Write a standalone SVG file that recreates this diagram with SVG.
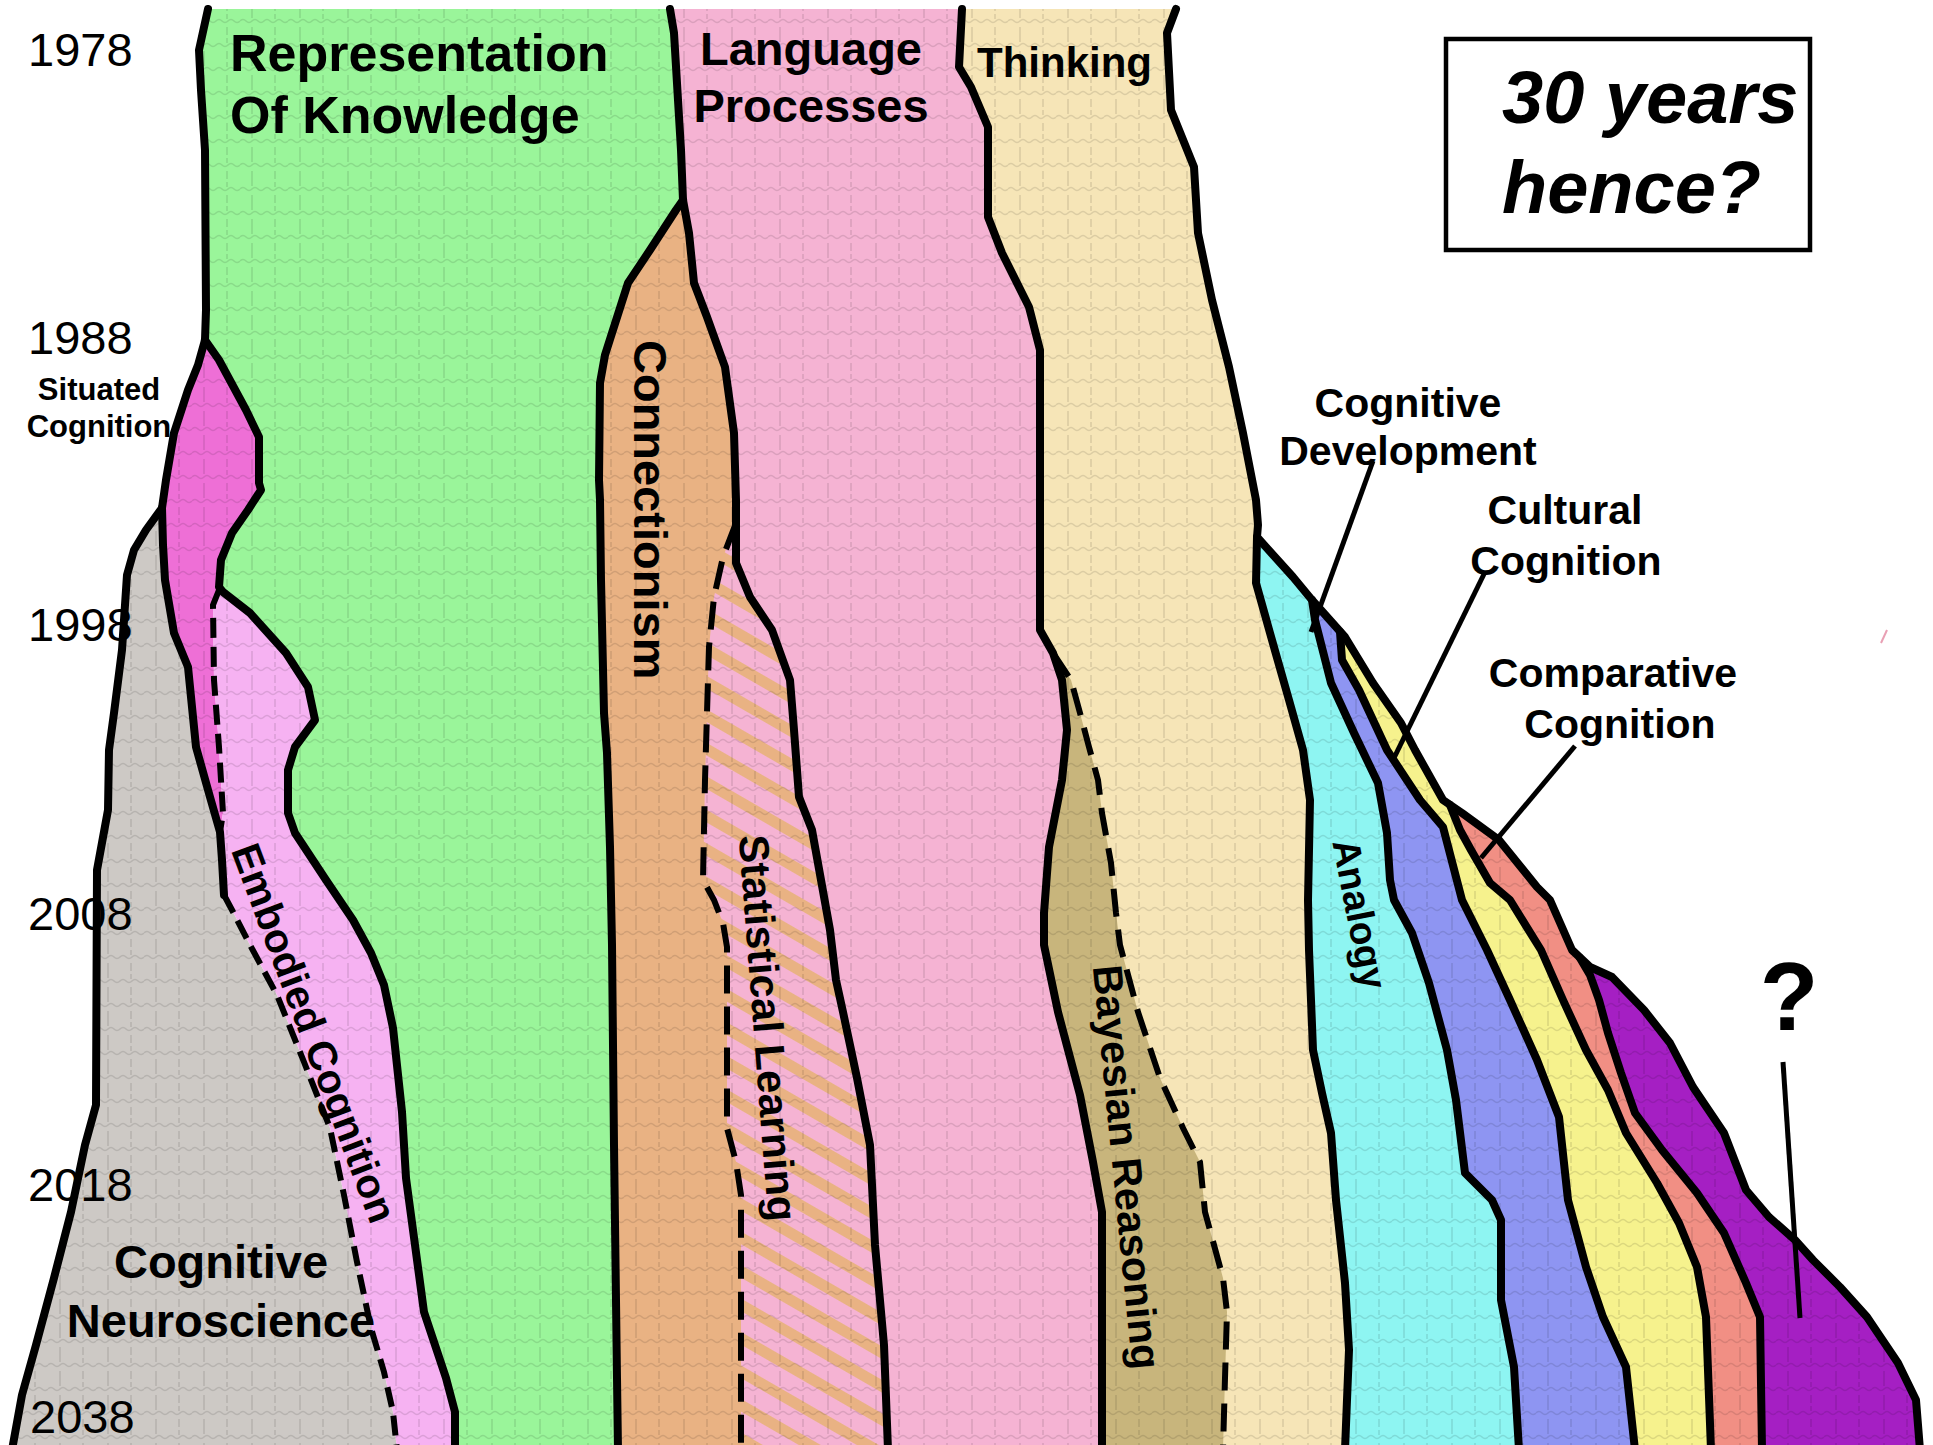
<svg xmlns="http://www.w3.org/2000/svg" width="1933" height="1445" viewBox="0 0 1933 1445">
<style>
.year{font-family:"Liberation Sans",Arial,sans-serif;font-size:47px;fill:#000}
.lb{font-family:"Liberation Sans",Arial,sans-serif;font-weight:bold;fill:#000}
.edge{fill:none;stroke:#000;stroke-width:8;stroke-linejoin:round;stroke-linecap:round}
.dash{fill:none;stroke:#000;stroke-width:6;stroke-dasharray:28 13}
.dash2{fill:none;stroke:#000;stroke-width:6;stroke-dasharray:20 9}
.lead{fill:none;stroke:#000;stroke-width:5}
</style>
<defs>
<pattern id="tex" width="48" height="24" patternUnits="userSpaceOnUse">
<path d="M0 21 q3 -3 6 0 t6 0 t6 0 t6 0 t6 0 t6 0 t6 0 t6 0 M12 3 v15 M35 3 v8 M35 14 v5" fill="none" stroke="#000" stroke-opacity="0.11" stroke-width="1.6"/>
</pattern>
<pattern id="stripes" width="40" height="29" patternUnits="userSpaceOnUse" patternTransform="rotate(30)">
<rect width="40" height="29" fill="#f5b3d3"/>
<rect y="0" width="40" height="11" fill="#e9b283"/>
</pattern>
<clipPath id="allclip">
<path d="M208 9 L1176 9 L1167 33 L1171 110 L1194 167 L1198 233 L1212 300 L1229 367 L1243 433 L1256 500 L1258 525 L1257 537 L1293 577 L1312 600 L1345 637 L1373 683 L1401 723 L1415 750 L1443 800 L1462 813 L1499 840 L1537 887 L1550 900 L1572 950 L1590 967 L1612 977 L1644 1010 L1670 1043 L1693 1087 L1724 1133 L1746 1190 L1769 1217 L1795 1240 L1813 1260 L1840 1287 L1867 1317 L1898 1363 L1916 1400 L1920 1445 L1922 1450 L12 1450 L22 1395 L36 1345 L54 1278 L71 1212 L85 1145 L96 1105 L97 870 L108 810 L109 750 L114 713 L122 650 L127 575 L134 550 L146 530 L162 508 L166 480 L174 433 L188 390 L198 365 L205 340 L206 310 L205 150 L201 90 L199 50 Z"/>
</clipPath>
</defs>
<rect width="1933" height="1445" fill="#ffffff"/>

<g id="regions">
<g id="thinking"><path fill="#f6e5b7" d="M962 9 L959 67 L971 87 L988 127 L988 217 L1002 253 L1029 307 L1040 350 L1040 500 L1040 630 L1053 653 L1062 680 L1067 730 L1062 780 L1049 847 L1044 913 L1044 945 L1058 1012 L1080 1095 L1093 1162 L1102 1212 L1102 1450 L1922 1450 L1920 1445 L1916 1400 L1898 1363 L1867 1317 L1840 1287 L1813 1260 L1795 1240 L1769 1217 L1746 1190 L1724 1133 L1693 1087 L1670 1043 L1644 1010 L1612 977 L1590 967 L1572 950 L1550 900 L1537 887 L1499 840 L1462 813 L1443 800 L1415 750 L1401 723 L1373 683 L1345 637 L1312 600 L1293 577 L1257 537 L1258 525 L1256 500 L1243 433 L1229 367 L1212 300 L1198 233 L1194 167 L1171 110 L1167 33 L1176 9 Z"/></g>
<g id="analogy"><path fill="#8ef5f2" d="M1257 537 L1256 583 L1270 633 L1289 700 L1303 750 L1310 800 L1308 900 L1309 950 L1313 1050 L1322 1093 L1331 1133 L1336 1200 L1345 1283 L1349 1350 L1345 1450 L1922 1450 L1920 1445 L1916 1400 L1898 1363 L1867 1317 L1840 1287 L1813 1260 L1795 1240 L1769 1217 L1746 1190 L1724 1133 L1693 1087 L1670 1043 L1644 1010 L1612 977 L1590 967 L1572 950 L1550 900 L1537 887 L1499 840 L1462 813 L1443 800 L1415 750 L1401 723 L1373 683 L1345 637 L1312 600 L1293 577 Z"/></g>
<g id="cognitive-development"><path fill="#8e95f2" d="M1312 600 L1315 620 L1331 683 L1354 733 L1378 783 L1387 833 L1390 880 L1394 900 L1412 933 L1429 983 L1447 1050 L1456 1100 L1465 1173 L1492 1200 L1501 1220 L1501 1300 L1514 1367 L1519 1450 L1922 1450 L1920 1445 L1916 1400 L1898 1363 L1867 1317 L1840 1287 L1813 1260 L1795 1240 L1769 1217 L1746 1190 L1724 1133 L1693 1087 L1670 1043 L1644 1010 L1612 977 L1590 967 L1572 950 L1550 900 L1537 887 L1499 840 L1462 813 L1443 800 L1415 750 L1401 723 L1373 683 L1345 637 Z"/></g>
<g id="cultural-cognition"><path fill="#f6f28d" d="M1340 632 L1342 660 L1359 690 L1387 750 L1420 800 L1443 827 L1462 900 L1487 950 L1510 1000 L1537 1060 L1559 1117 L1568 1200 L1586 1267 L1603 1317 L1626 1367 L1635 1450 L1922 1450 L1920 1445 L1916 1400 L1898 1363 L1867 1317 L1840 1287 L1813 1260 L1795 1240 L1769 1217 L1746 1190 L1724 1133 L1693 1087 L1670 1043 L1644 1010 L1612 977 L1590 967 L1572 950 L1550 900 L1537 887 L1499 840 L1462 813 L1443 800 L1415 750 L1401 723 L1373 683 L1345 637 Z"/></g>
<g id="comparative-cognition"><path fill="#f18f84" d="M1450 805 L1460 830 L1471 850 L1490 883 L1510 900 L1541 950 L1563 1000 L1586 1050 L1608 1090 L1626 1133 L1657 1183 L1679 1223 L1697 1267 L1706 1317 L1711 1450 L1922 1450 L1920 1445 L1916 1400 L1898 1363 L1867 1317 L1840 1287 L1813 1260 L1795 1240 L1769 1217 L1746 1190 L1724 1133 L1693 1087 L1670 1043 L1644 1010 L1612 977 L1590 967 L1572 950 L1550 900 L1537 887 L1499 840 L1462 813 Z"/></g>
<g id="unknown-future"><path fill="#a51fc3" d="M1580 958 L1590 975 L1599 1000 L1608 1033 L1621 1073 L1635 1113 L1662 1150 L1697 1193 L1724 1233 L1746 1283 L1760 1317 L1762 1450 L1922 1450 L1920 1445 L1916 1400 L1898 1363 L1867 1317 L1840 1287 L1813 1260 L1795 1240 L1769 1217 L1746 1190 L1724 1133 L1693 1087 L1670 1043 L1644 1010 L1612 977 L1590 967 Z"/></g>
<g id="bayesian-reasoning"><path fill="#c8b57c" d="M1053 653 L1062 680 L1067 730 L1062 780 L1049 847 L1044 913 L1044 945 L1058 1012 L1080 1095 L1093 1162 L1102 1212 L1102 1450 L1223 1450 L1225 1378 L1227 1312 L1223 1278 L1205 1212 L1200 1162 L1183 1128 L1160 1078 L1138 1012 L1120 945 L1116 913 L1111 863 L1102 813 L1098 780 L1089 747 L1080 713 L1071 680 Z"/></g>
<g id="language-processes"><path fill="#f5b3d3" d="M670 9 L962 9 L959 67 L971 87 L988 127 L988 217 L1002 253 L1029 307 L1040 350 L1040 500 L1040 630 L1053 653 L1062 680 L1067 730 L1062 780 L1049 847 L1044 913 L1044 945 L1058 1012 L1080 1095 L1093 1162 L1102 1212 L1102 1450 L888 1450 L884 1345 L875 1245 L870 1145 L857 1078 L843 1012 L836 980 L830 930 L821 880 L812 830 L799 797 L794 730 L790 680 L772 630 L750 597 L736 563 L736 500 L734 433 L725 367 L707 317 L694 283 L689 233 L683 200 L681 150 L678 100 L674 33 Z"/></g>
<g id="representation-of-knowledge"><path fill="#9af59a" d="M208 9 L670 9 L674 33 L678 100 L681 150 L683 200 L676 210 L650 250 L628 283 L612 333 L605 355 L600 383 L599 480 L600 500 L601 580 L604 713 L607 753 L610 847 L612 945 L614 1145 L617 1378 L618 1450 L455 1450 L455 1412 L446 1378 L424 1312 L415 1245 L406 1178 L402 1112 L393 1028 L384 985 L371 953 L353 920 L326 880 L295 833 L288 813 L288 770 L295 747 L315 720 L308 687 L286 653 L250 613 L223 592 L219 587 L221 560 L232 533 L248 510 L261 490 L259 483 L259 437 L246 410 L219 360 L205 340 L206 310 L205 150 L201 90 L199 50 Z"/></g>
<g id="connectionism"><path fill="#e9b283" d="M683 200 L676 210 L650 250 L628 283 L612 333 L605 355 L600 383 L599 480 L600 500 L601 580 L604 713 L607 753 L610 847 L612 945 L614 1145 L617 1378 L618 1450 L888 1450 L884 1345 L875 1245 L870 1145 L857 1078 L843 1012 L836 980 L830 930 L821 880 L812 830 L799 797 L794 730 L790 680 L772 630 L750 597 L736 563 L736 500 L734 433 L725 367 L707 317 L694 283 L689 233 Z"/></g>
<g id="statistical-learning"><path fill="url(#stripes)" d="M736 523 L723 557 L714 597 L709 647 L707 713 L705 780 L703 880 L714 900 L723 923 L727 947 L727 1128 L736 1162 L741 1195 L741 1450 L888 1450 L884 1345 L875 1245 L870 1145 L857 1078 L843 1012 L836 980 L830 930 L821 880 L812 830 L799 797 L794 730 L790 680 L772 630 L750 597 L736 563 Z"/></g>
<g id="cognitive-neuroscience"><path fill="#cdc9c5" d="M162 508 L146 530 L134 550 L127 575 L122 650 L114 713 L109 750 L108 810 L97 870 L96 1105 L85 1145 L71 1212 L54 1278 L36 1345 L22 1395 L12 1450 L397 1450 L393 1412 L384 1372 L371 1328 L357 1262 L344 1195 L330 1128 L304 1062 L277 995 L250 945 L232 910 L224 895 L222 860 L220 832 L210 797 L196 747 L188 667 L174 633 L165 580 L163 545 Z"/></g>
<g id="situated-cognition"><path fill="#ee6fd6" d="M205 340 L219 360 L246 410 L259 437 L259 483 L261 490 L248 510 L232 533 L221 560 L219 587 L219 590 L213 605 L214 680 L219 747 L223 813 L220 832 L210 797 L196 747 L188 667 L174 633 L165 580 L163 545 L162 508 L166 480 L174 433 L188 390 L198 365 Z"/></g>
<g id="embodied-cognition"><path fill="#f6b2f2" d="M219 590 L213 605 L214 680 L219 747 L223 813 L220 832 L222 860 L224 895 L232 910 L250 945 L277 995 L304 1062 L330 1128 L344 1195 L357 1262 L371 1328 L384 1372 L393 1412 L397 1450 L455 1450 L455 1412 L446 1378 L424 1312 L415 1245 L406 1178 L402 1112 L393 1028 L384 985 L371 953 L353 920 L326 880 L295 833 L288 813 L288 770 L295 747 L315 720 L308 687 L286 653 L250 613 L223 592 Z"/></g>
</g>

<g id="texture" clip-path="url(#allclip)">
<rect x="0" y="0" width="1933" height="1445" fill="url(#tex)"/>
</g>

<g id="years">
<text class="year" x="28" y="66">1978</text>
<text class="year" x="28" y="354">1988</text>
<text class="year" x="28" y="641">1998</text>
<text class="year" x="28" y="930">2008</text>
<text class="year" x="28" y="1201">2018</text>
<text class="year" x="30" y="1433">2038</text>
</g>

<g id="connectors-boundaries">
<path class="edge" d="M208 9 L199 50 L201 90 L205 150 L206 310 L205 340 L198 365 L188 390 L174 433 L166 480 L162 508 L146 530 L134 550 L127 575 L122 650 L114 713 L109 750 L108 810 L97 870 L96 1105 L85 1145 L71 1212 L54 1278 L36 1345 L22 1395 L12 1450"/>
<path class="edge" d="M162 508 L163 545 L165 580 L174 633 L188 667 L196 747 L210 797 L220 832 L222 860 L224 895"/>
<path class="dash2" d="M224 895 L232 910 L250 945 L277 995 L304 1062 L330 1128 L344 1195 L357 1262 L371 1328 L384 1372 L393 1412 L397 1450"/>
<path class="edge" d="M205 340 L219 360 L246 410 L259 437 L259 483 L261 490 L248 510 L232 533 L221 560 L219 587 L223 592 L250 613 L286 653 L308 687 L315 720 L295 747 L288 770 L288 813 L295 833 L326 880 L353 920 L371 953 L384 985 L393 1028 L402 1112 L406 1178 L415 1245 L424 1312 L446 1378 L455 1412 L455 1450"/>
<path class="dash2" d="M219 590 L213 605 L214 680 L219 747 L223 813 L220 832"/>
<path class="edge" d="M670 9 L674 33 L678 100 L681 150 L683 200 L689 233 L694 283 L707 317 L725 367 L734 433 L736 500 L736 563 L750 597 L772 630 L790 680 L794 730 L799 797 L812 830 L821 880 L830 930 L836 980 L843 1012 L857 1078 L870 1145 L875 1245 L884 1345 L888 1450"/>
<path class="edge" d="M683 200 L676 210 L650 250 L628 283 L612 333 L605 355 L600 383 L599 480 L600 500 L601 580 L604 713 L607 753 L610 847 L612 945 L614 1145 L617 1378 L618 1450"/>
<path class="dash" d="M736 523 L723 557 L714 597 L709 647 L707 713 L705 780 L703 880 L714 900 L723 923 L727 947 L727 1128 L736 1162 L741 1195 L741 1450"/>
<path class="edge" d="M962 9 L959 67 L971 87 L988 127 L988 217 L1002 253 L1029 307 L1040 350 L1040 500 L1040 630 L1053 653 L1062 680 L1067 730 L1062 780 L1049 847 L1044 913 L1044 945 L1058 1012 L1080 1095 L1093 1162 L1102 1212 L1102 1450"/>
<path class="dash" d="M1053 653 L1071 680 L1080 713 L1089 747 L1098 780 L1102 813 L1111 863 L1116 913 L1120 945 L1138 1012 L1160 1078 L1183 1128 L1200 1162 L1205 1212 L1223 1278 L1227 1312 L1225 1378 L1223 1450"/>
<path class="edge" d="M1176 9 L1167 33 L1171 110 L1194 167 L1198 233 L1212 300 L1229 367 L1243 433 L1256 500 L1258 525 L1257 537 L1293 577 L1312 600 L1345 637 L1373 683 L1401 723 L1415 750 L1443 800 L1462 813 L1499 840 L1537 887 L1550 900 L1572 950 L1590 967 L1612 977 L1644 1010 L1670 1043 L1693 1087 L1724 1133 L1746 1190 L1769 1217 L1795 1240 L1813 1260 L1840 1287 L1867 1317 L1898 1363 L1916 1400 L1920 1450"/>
<path class="edge" d="M1257 537 L1256 583 L1270 633 L1289 700 L1303 750 L1310 800 L1308 900 L1309 950 L1313 1050 L1322 1093 L1331 1133 L1336 1200 L1345 1283 L1349 1350 L1345 1450"/>
<path class="edge" d="M1312 600 L1315 620 L1331 683 L1354 733 L1378 783 L1387 833 L1390 880 L1394 900 L1412 933 L1429 983 L1447 1050 L1456 1100 L1465 1173 L1492 1200 L1501 1220 L1501 1300 L1514 1367 L1519 1450"/>
<path class="edge" d="M1340 632 L1342 660 L1359 690 L1387 750 L1420 800 L1443 827 L1462 900 L1487 950 L1510 1000 L1537 1060 L1559 1117 L1568 1200 L1586 1267 L1603 1317 L1626 1367 L1635 1450"/>
<path class="edge" d="M1450 805 L1460 830 L1471 850 L1490 883 L1510 900 L1541 950 L1563 1000 L1586 1050 L1608 1090 L1626 1133 L1657 1183 L1679 1223 L1697 1267 L1706 1317 L1711 1450"/>
<path class="edge" d="M1580 958 L1590 975 L1599 1000 L1608 1033 L1621 1073 L1635 1113 L1662 1150 L1697 1193 L1724 1233 L1746 1283 L1760 1317 L1762 1450"/>
</g>

<g id="labels">
<g id="label-representation"><text class="lb" font-size="52" x="230" y="71">Representation</text><text class="lb" font-size="52" x="230" y="133">Of Knowledge</text></g>
<g id="label-language"><text class="lb" font-size="47" x="811" y="65" text-anchor="middle">Language</text><text class="lb" font-size="47" x="811" y="122" text-anchor="middle">Processes</text></g>
<g id="label-thinking"><text class="lb" font-size="42" x="977" y="77">Thinking</text></g>
<g id="label-situated"><text class="lb" font-size="31" x="99" y="400" text-anchor="middle">Situated</text><text class="lb" font-size="31" x="99" y="437" text-anchor="middle">Cognition</text></g>
<g id="label-connectionism"><text class="lb" font-size="47" transform="translate(634,340) rotate(90)">Connectionism</text></g>
<g id="label-statistical"><text class="lb" font-size="42" text-anchor="middle" dominant-baseline="central" transform="translate(768,1028) rotate(85.6)">Statistical Learning</text></g>
<g id="label-embodied"><text class="lb" font-size="41" text-anchor="middle" dominant-baseline="central" transform="translate(314,1033) rotate(69.5)">Embodied Cognition</text></g>
<g id="label-bayesian"><text class="lb" font-size="41.5" text-anchor="middle" dominant-baseline="central" transform="translate(1127,1167) rotate(84.4)">Bayesian Reasoning</text></g>
<g id="label-analogy"><text class="lb" font-size="38.5" text-anchor="middle" dominant-baseline="central" transform="translate(1360,914) rotate(79)">Analogy</text></g>
<g id="label-neuroscience"><text class="lb" font-size="47" x="221" y="1278" text-anchor="middle">Cognitive</text><text class="lb" font-size="47" x="221" y="1337" text-anchor="middle">Neuroscience</text></g>
<g id="label-development"><text class="lb" font-size="41" x="1408" y="417" text-anchor="middle">Cognitive</text><text class="lb" font-size="41" x="1408" y="465" text-anchor="middle">Development</text></g>
<g id="label-cultural"><text class="lb" font-size="41" x="1565" y="524" text-anchor="middle">Cultural</text><text class="lb" font-size="41" x="1566" y="575" text-anchor="middle">Cognition</text></g>
<g id="label-comparative"><text class="lb" font-size="41" x="1613" y="687" text-anchor="middle">Comparative</text><text class="lb" font-size="41" x="1620" y="738" text-anchor="middle">Cognition</text></g>
<g id="label-question"><text class="lb" font-size="96" x="1789" y="1030" text-anchor="middle">?</text></g>
</g>

<g id="connectors">
<line class="lead" x1="1373" y1="461" x2="1311" y2="632"/>
<line class="lead" x1="1485" y1="572" x2="1393" y2="760"/>
<line class="lead" x1="1575" y1="746" x2="1481" y2="858"/>
<line class="lead" stroke-width="6" x1="1783" y1="1062" x2="1800" y2="1318"/>
<line x1="1887" y1="630" x2="1881" y2="643" stroke="#e9a0b4" stroke-width="2"/>
</g>

<g id="hence-box">
<rect x="1446" y="39" width="364" height="211" fill="#ffffff" stroke="#000" stroke-width="4.5"/>
<text class="lb" font-size="74" font-style="italic" x="1502" y="123">30 years</text>
<text class="lb" font-size="74" font-style="italic" x="1502" y="213">hence?</text>
</g>
</svg>
